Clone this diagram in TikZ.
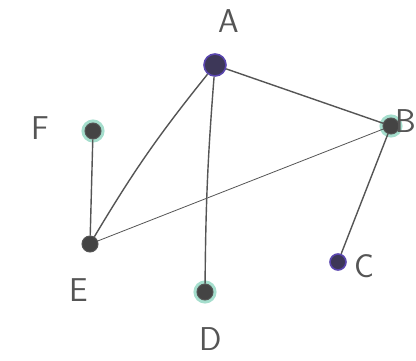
\documentclass[tikz,border=0pt]{standalone}
\usepackage{fontspec}
\setmainfont{Liberation Sans}
\definecolor{inkgray}{RGB}{85,85,85}
\definecolor{penpurple}{RGB}{90,70,175}
\definecolor{pengreen}{RGB}{165,222,205}
\begin{document}
\begin{tikzpicture}[
        x=1pt, y=-1pt,
        vertex/.style={
            circle, 
            draw=inkgray, 
            fill=inkgray!80!black, 
            minimum size=16pt, 
            inner sep=0pt, 
            line width=1pt
        },
        purplevertex/.style={
            vertex, 
            draw=penpurple, 
            line width=1.6pt, 
            fill=penpurple!45!inkgray!70!black
        },
        ringvertex/.style={
            vertex, 
            preaction={draw=pengreen, line width=7pt}
        },
        letter/.style={
            text=inkgray, 
            font=\fontsize{33}{33}\selectfont\sffamily
        },
        edge/.style={draw=inkgray, line width=1.4pt},
        thinedge/.style={draw=inkgray, line width=0.8pt}
    ]
    \useasboundingbox (0,0) rectangle (416,360);
    \fill[white] (0,0) rectangle (416,360);
    % Vertices
    \node[purplevertex, minimum size=22pt] (a) at (215, 65) {};
    \node[ringvertex] (b) at (391, 126) {};
    \node[purplevertex] (c) at (338, 262) {};
    \node[ringvertex] (d) at (205, 292) {};
    \node[vertex] (e) at (90, 244) {};
    \node[ringvertex] (f) at (93, 131) {};
    
    % Letters
    \node[letter] (la) at (229, 21) {A};
    \node[letter] (lb) at (406, 121) {B};
    \node[letter] (lc) at (364, 266) {C};
    \node[letter] (ld) at (211, 339) {D};
    \node[letter] (le) at (79, 290) {E};
    \node[letter] (lf) at (40, 128) {F};
    
    % Edges
    \draw[edge] (a) -- (b);
    \draw[edge] (a) to[bend right=4] (e);
    \draw[edge] (a) to[bend right=2] (d);
    \draw[thinedge] (b) -- (e);
    \draw[edge] (b) -- (c);
    \draw[edge] (f) -- (e);
    \end{tikzpicture}
\end{document}
